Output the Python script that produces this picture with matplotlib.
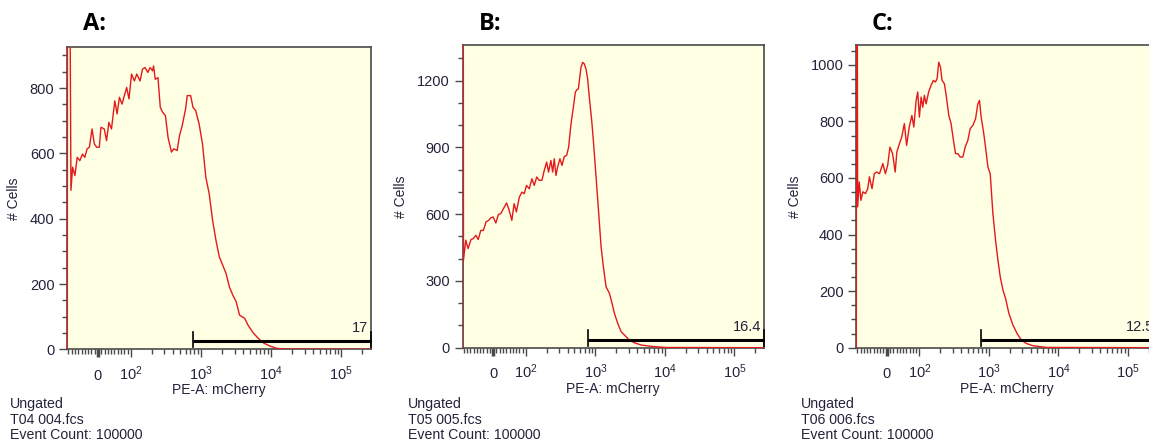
import matplotlib
matplotlib.use('Agg')
import matplotlib.pyplot as plt
from matplotlib.ticker import FixedLocator, MultipleLocator
from matplotlib.transforms import blended_transform_factory

plt.rcParams['font.family'] = ['Liberation Sans', 'DejaVu Sans']
plt.rcParams['mathtext.fontset'] = 'custom'
plt.rcParams['mathtext.rm'] = 'Liberation Sans'
plt.rcParams['mathtext.it'] = 'Liberation Sans'

# --- данные ---
panel_titles = ['A:', 'B:', 'C:']
sample_files = ['T04 004.fcs', 'T05 005.fcs', 'T06 006.fcs']
event_count = 100000
gate_pct = ['17', '16.4', '12.5']
gate_start = [767, 774, 774]
pe_max = 262144
pe_min = -94

x_ticks = [0, 100, 1000, 10000, 100000]
x_tick_labels = ['0', r'$\mathregular{10^2}$', r'$\mathregular{10^3}$',
                 r'$\mathregular{10^4}$', r'$\mathregular{10^5}$']

# A: T04
a_pe = [-93, -92, -82, -77, -70, -63, -55, -47, -40, -33,
        -26, -18, -11, -4, 4, 9, 19, 26, 33, 41,
        51, 58, 65, 73, 80, 87, 94, 102, 112, 121,
        135, 146, 159, 174, 188, 203, 210, 222, 243, 262,
        283, 310, 338, 378, 408, 456, 493, 538, 601, 635,
        710, 767, 838, 938, 1047, 1169, 1306, 1459, 1629, 1820,
        2032, 2270, 2535, 2831, 3162, 3532, 4178, 4667, 5508, 6501,
        7674, 9570, 11940, 14890, 262144]
a_cells = [0, 2500, 487, 558, 532, 588, 578, 598, 588, 614,
           619, 675, 629, 619, 619, 680, 675, 639, 695, 675,
           761, 721, 772, 751, 777, 802, 767, 843, 822, 843,
           822, 858, 863, 848, 863, 853, 868, 827, 832, 741,
           726, 716, 649, 604, 614, 609, 655, 685, 736, 777,
           777, 741, 731, 690, 629, 527, 476, 395, 334, 283,
           258, 232, 191, 166, 146, 105, 95, 74, 51, 34,
           20, 10, 3, 1, 0]

# B: T05
b_pe = [-93, -92, -91, -84, -77, -68, -61, -53, -46, -38,
        -30, -22, -14, -7, 0, 8, 16, 23, 34, 41,
        49, 57, 64, 71, 80, 88, 95, 102, 112, 122,
        132, 143, 156, 170, 184, 199, 212, 229, 243, 256,
        271, 286, 309, 331, 357, 386, 412, 446, 482, 515,
        538, 569, 588, 621, 656, 693, 733, 774, 818, 885,
        935, 1023, 1117, 1208, 1303, 1426, 1507, 1592, 1738, 1879,
        2099, 2344, 2618, 3090, 3656, 4560, 6012, 7499, 10450, 262144]
b_cells = [0, 2500, 393, 483, 445, 486, 490, 505, 486, 527,
           527, 565, 572, 584, 587, 560, 599, 602, 632, 650,
           617, 572, 647, 610, 677, 699, 692, 729, 714, 759,
           729, 767, 752, 752, 797, 834, 789, 841, 789, 849,
           774, 811, 849, 819, 859, 864, 901, 1006, 1080, 1148,
           1158, 1163, 1200, 1260, 1282, 1275, 1252, 1207, 1125, 1021,
           931, 767, 602, 453, 363, 273, 259, 244, 199, 154,
           109, 72, 57, 34, 22, 12, 7, 4, 1, 0]

# C: T06
c_pe = [-93, -92, -89, -84, -79, -73, -65, -58, -53, -45,
        -38, -31, -22, -12, -4, 3, 10, 18, 26, 31,
        39, 46, 54, 61, 69, 77, 83, 90, 95, 100,
        106, 112, 118, 125, 136, 147, 159, 170, 180, 190,
        201, 212, 229, 243, 265, 286, 309, 331, 357, 386,
        422, 456, 498, 538, 588, 643, 693, 733, 774, 838,
        895, 968, 1045, 1142, 1247, 1349, 1456, 1592, 1738, 1941,
        2218, 2535, 2924, 3451, 4315, 5383, 6714, 262144]
c_cells = [0, 2500, 498, 586, 521, 551, 545, 562, 604, 562,
           615, 621, 615, 651, 615, 645, 709, 686, 621, 692,
           721, 745, 792, 715, 780, 821, 780, 874, 904, 815,
           886, 850, 892, 862, 904, 927, 945, 939, 951, 1009,
           992, 945, 933, 892, 821, 792, 733, 686, 686, 674,
           674, 709, 733, 774, 786, 809, 862, 874, 815, 762,
           709, 639, 615, 474, 380, 309, 251, 204, 174, 121,
           80, 51, 27, 15, 7, 4, 1, 0]

curves = [(a_pe, a_cells), (b_pe, b_cells), (c_pe, c_cells)]
y_max = [925, 1360, 1070]
y_major = [200, 300, 200]
y_minor = [50, 100, 50]

# положение осей в пикселях: left, top, right, bottom
W, H = 1149, 445
boxes = [(67, 47.3, 370.7, 349.3),
         (462.5, 45, 763.5, 347.7),
         (856, 45, 1157, 347.7)]
ylabel_x = [-0.150, -0.180, -0.180]

txt_color = '#23233a'
axis_color = '#4a4a4a'
bg_color = '#ffffe3'
line_color = '#e3191c'

x_minor = ([-v for v in range(10, 100, 10)] + list(range(10, 100, 10)) +
           [m * 10 ** k for k in (2, 3, 4) for m in range(2, 10)] + [200000])


def draw_panel(fig, i):
    l, t, r, b = boxes[i]
    ax = fig.add_axes([l / W, 1 - b / H, (r - l) / W, (b - t) / H])
    ax.set_facecolor(bg_color)
    ax.set_xscale('symlog', linthresh=100, linscale=0.423)
    ax.set_xlim(pe_min, pe_max)
    ax.set_ylim(0, y_max[i])

    pe, cells = curves[i]
    ax.plot(pe, cells, color=line_color, lw=1.0, zorder=3, clip_on=True)

    # гейт
    tr = blended_transform_factory(ax.transData, ax.transAxes)
    ax.plot([gate_start[i], pe_max], [0.026, 0.026], color='black', lw=2.2,
            transform=tr, zorder=4, solid_capstyle='butt', clip_on=False)
    for gx in (gate_start[i], pe_max):
        ax.plot([gx, gx], [0.006, 0.057], color='black', lw=1.2,
                transform=tr, zorder=4, clip_on=False)
    ax.text(pe_max / 1.08, 0.07, gate_pct[i], transform=tr, ha='right',
            va='center', fontsize=10.5, color=txt_color)

    # оси и тики
    ax.xaxis.set_major_locator(FixedLocator(x_ticks))
    ax.set_xticklabels(x_tick_labels)
    for lab in ax.get_xticklabels():
        lab.set_va('baseline')
    ax.xaxis.set_minor_locator(FixedLocator(x_minor))
    ax.yaxis.set_major_locator(MultipleLocator(y_major[i]))
    ax.yaxis.set_minor_locator(MultipleLocator(y_minor[i]))
    ax.tick_params(which='major', direction='out', length=6, width=1.0,
                   color=axis_color, labelcolor=txt_color, labelsize=10.5)
    ax.tick_params(which='minor', direction='out', length=3.5, width=1.0,
                   color=axis_color)
    ax.tick_params(axis='x', which='major', pad=16)
    ax.tick_params(axis='y', which='major', pad=3)
    ax.xaxis.get_major_ticks()[0].tick1line.set_markeredgewidth(2.5)
    for s in ax.spines.values():
        s.set_color(axis_color)
        s.set_linewidth(1.2)

    ax.set_xlabel('PE-A: mCherry', fontsize=10, color=txt_color)
    ax.xaxis.set_label_coords(0.5, -0.113)
    ax.set_ylabel('# Cells', fontsize=10, color=txt_color)
    ax.yaxis.set_label_coords(ylabel_x[i], 0.5)

    # подписи
    fig.text((l + 16) / W, 1 - 12 / H, panel_titles[i], fontsize=17,
             fontweight='bold', family='Open Sans', va='top', ha='left')
    fig.text((l - 57 + (i > 0) * 2) / W, 1 - 397 / H,
             'Ungated\n' + sample_files[i] + '\nEvent Count: ' + str(event_count),
             fontsize=10.2, color=txt_color, va='top', ha='left', linespacing=1.15)
    return ax


fig = plt.figure(figsize=(W / 100, H / 100), dpi=100)
for i in range(3):
    draw_panel(fig, i)

fig.savefig('out.png', dpi=100, facecolor='white')
